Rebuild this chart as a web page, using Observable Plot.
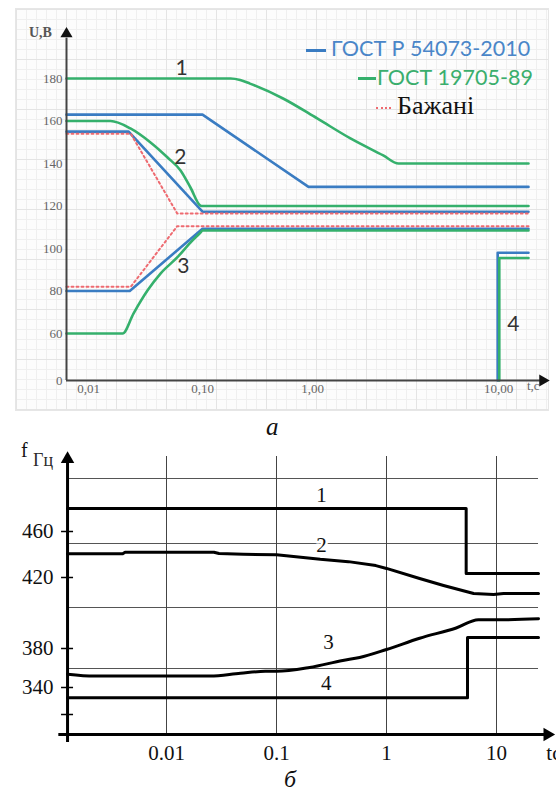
<!DOCTYPE html>
<html><head><meta charset="utf-8">
<script src="https://cdn.jsdelivr.net/npm/d3@7"></script>
<script src="https://cdn.jsdelivr.net/npm/@observablehq/plot@0.6"></script>
<style>
body{margin:0;background:#fff;width:556px;height:793px;position:relative;overflow:hidden;font-family:"Liberation Serif",serif}
.abs{position:absolute;white-space:nowrap;line-height:1}
#panel{left:15px;top:8px;width:532px;height:401px;background-color:#fcfcfc;
background-image:linear-gradient(#e4e4e4 1px,transparent 1px),linear-gradient(90deg,#e4e4e4 1px,transparent 1px),linear-gradient(#efefef 1px,transparent 1px),linear-gradient(90deg,#efefef 1px,transparent 1px);
background-size:50px 50px,50px 50px,10px 10px,10px 10px;border:1px solid #e6e6e6}
#chartA{left:0;top:0}
#chartB{left:0;top:440px}
</style></head><body>
<div id="panel" class="abs"></div>
<div id="chartA" class="abs"></div>
<div id="chartB" class="abs"></div>
<div class="abs" style="left:29px;top:26px;font-size:14px;font-weight:bold;color:#555">U,B</div>
<div class="abs" style="left:527px;top:379px;font-size:13px;color:#666">t,c</div>
<div class="abs" style="left:306px;top:49px;width:20px;height:3px;background:#3a7cc2"></div>
<div class="abs" style="left:331px;top:38px;font-family:Lato,sans-serif;font-size:21.5px;color:#4a86c8">ГОСТ Р 54073-2010</div>
<div class="abs" style="left:358px;top:77px;width:18px;height:3px;background:#35b06c"></div>
<div class="abs" style="left:377px;top:67px;font-family:Lato,sans-serif;font-size:21.5px;color:#3aae6d">ГОСТ 19705-89</div>
<div class="abs" style="left:376px;top:107px;width:15px;height:0;border-top:2px dotted #ee6a70"></div>
<div class="abs" style="left:397px;top:93px;font-size:26px;color:#111">Бажані</div>
<div class="abs" style="left:266px;top:414px;font-size:25px;font-style:italic;color:#111">а</div>
<div class="abs" style="left:21px;top:440px;font-size:20px;color:#111">f</div>
<div class="abs" style="left:33px;top:451px;font-size:18px;color:#2b2b2b">Гц</div>
<div class="abs" style="left:284px;top:767px;font-size:24px;font-style:italic;color:#111">б</div>
<script>
// ---------- Chart а : U, B vs t, c ----------
const aXTicks = [0.01, 0.1, 1, 10];
const aXLabels = ["0,01", "0,10", "1,00", "10,00"];
const aYTicks = [0, 60, 80, 100, 120, 140, 160, 180];
const gostR_1 = [[0.0064,163],[0.1,163],[0.92,129],[14.5,129]];
const gostR_2 = [[0.0064,155],[0.0225,155],[0.1,117.3],[14.5,117.3]];
const gostR_3 = [[0.0064,80],[0.023,80],[0.1,109.3],[14.5,109.3]];
const gostR_4 = [[9.9,0],[9.9,98],[14.5,98]];
const gost_1 = [[0.0064,180],[0.18,180],[0.22,179.3],[0.27,177.6],[0.54,170.6],[1.06,161.2],[1.6,151.8],[2.4,143.8],[2.9,140],[14.5,140]];
const gost_2 = [[0.0064,160],[0.0156,160],[0.0233,156.5],[0.035,149.9],[0.0494,142.8],[0.0642,136.7],[0.0784,128.7],[0.096,120.2],[0.1,120],[14.5,120]];
const gost_3 = [[0.0064,60],[0.0199,60],[0.0248,69.4],[0.0329,80.2],[0.0428,88.2],[0.06,95.8],[0.0784,102.8],[0.096,107.5],[0.1,108.5],[14.5,108.5]];
const gost_4 = [[10.1,0],[10.1,95.5],[14.5,95.5]];
const wish_up = [[0.0064,154],[0.0235,154],[0.06,116.5],[14.5,116.5]];
const wish_low = [[0.0064,82],[0.0235,82],[0.06,110.5],[14.5,110.5]];
const aCurveLabels = [{t:0.0654,u:184.7,s:"1"},{t:0.064,u:142.8,s:"2"},{t:0.068,u:91.5,s:"3"},{t:12.0,u:64.2,s:"4"}];
const aT0 = 0.0064, aTEnd = 16.8, aTArrow = 17.3, aUTop = 199, aUArrow = 201;

const BLUE = "#3a7cc2", GREEN = "#35b06c", RED = "#ee6a70";
const L = (data, stroke, extra = {}) => Plot.line(data, {x: d => d[0], y: d => d[1], stroke, strokeWidth: 2.6, ...extra});

const chartA = Plot.plot({
  width: 556, height: 415,
  x: {type: "log", domain: [0.0064, 0.01, 0.1, 1, 10, 14.5], range: [66, 88, 202, 312, 498, 528], axis: null},
  y: {type: "linear", domain: [0, 60, 180], range: [380, 333, 78], axis: null},
  style: {background: "transparent", overflow: "visible"},
  marks: [
    L(gostR_1, BLUE), L(gostR_2, BLUE), L(gostR_3, BLUE), L(gostR_4, BLUE),
    L(gost_1, GREEN, {curve: "monotone-x"}), L(gost_2, GREEN, {curve: "monotone-x"}), L(gost_3, GREEN, {curve: "monotone-x"}), L(gost_4, GREEN),
    L(wish_up, RED, {strokeWidth: 2, strokeDasharray: "2,3"}),
    L(wish_low, RED, {strokeWidth: 2, strokeDasharray: "2,3"}),
    Plot.ruleY([0], {x1: () => aT0, x2: () => aTEnd, stroke: "#444", strokeWidth: 2}),
    Plot.ruleX([aT0], {y1: () => 0, y2: () => aUTop, stroke: "#444", strokeWidth: 2}),
    Plot.dot([[aTArrow, 0]], {x: d => d[0], y: d => d[1], symbol: "triangle", r: 4.5, rotate: 90, fill: "#111", stroke: null}),
    Plot.dot([[aT0, aUArrow]], {x: d => d[0], y: d => d[1], symbol: "triangle", r: 4.5, fill: "#111", stroke: null}),
    Plot.text(aYTicks, {x: () => aT0, y: d => d, text: d => String(d), dx: -4, textAnchor: "end", fontSize: 13, fontFamily: "Liberation Serif", fill: "#666"}),
    Plot.text(aXTicks, {x: d => d, y: () => 0, text: (d, i) => aXLabels[i], dy: 8, fontSize: 13, fontFamily: "Liberation Serif", fill: "#666"}),
    Plot.text(aCurveLabels, {x: "t", y: "u", text: "s", fontSize: 21, fontFamily: "Lato", fill: "#333"})
  ]
});
document.getElementById("chartA").appendChild(chartA);

// ---------- Chart б : f, Гц vs t, c ----------
const bXTicks = [0.01, 0.1, 1, 10];
const bXLabels = ["0.01", "0.1", "1", "10"];
const bYTicks = [300, 340, 380, 420, 460];
const bYLabels = ["", "340", "380", "420", "460"];
const bGridY = [360, 400, 450, 500];
const f_1 = [[0.00126,477.4],[5.3,477.4],[5.3,423.5],[24.1,423.5]];
const f_2 = [[0.00126,441],[0.004,441],[0.0042,442.3],[0.027,442.3],[0.03,441.2],[0.05,440.5],[0.1,440],[0.25,436],[0.45,434],[0.8,430.5],[1,428],[2,419.3],[3.3,414.7],[6.2,409.3],[9.4,408.7],[11.6,409.3],[24.1,409.3]];
const f_3 = [[0.00126,354],[0.0022,352],[0.025,352],[0.047,355],[0.079,357],[0.1,357],[0.2,361],[0.4,368],[0.57,371],[1,379],[2,385],[4.3,390],[6.85,394],[10,394],[24.1,394.5]];
const f_4 = [[0.00126,325],[5.45,325],[5.45,385.4],[24.1,385.4]];
const bCurveLabels = [{t:0.257,f:487.2,s:"1"},{t:0.257,f:448.2,s:"2"},{t:0.297,f:382.9,s:"3"},{t:0.284,f:344.2,s:"4"}];
const bT0 = 0.00126, bTLeft = 0.00105, bTEnd = 30, bTArrow = 29, bTLineEnd = 24.1, bTUnit = 28.4;
const bFAxis = 270, bFBottom = 258, bFTop = 512, bFArrow = 515, bFGridTop = 517;

const K = (data, extra = {}) => Plot.line(data, {x: d => d[0], y: d => d[1], stroke: "#000", strokeWidth: 3, ...extra});

const chartB = Plot.plot({
  width: 556, height: 353,
  x: {type: "log", domain: [0.001, 100], range: [56, 606], axis: null},
  y: {type: "linear", domain: [270, 300, 340, 360, 380, 400, 420, 450, 460, 500, 517], range: [294, 274, 247, 228, 208, 167, 137, 103, 91, 38, 16], axis: null},
  style: {background: "transparent", overflow: "visible"},
  marks: [
    Plot.ruleY(bGridY, {x1: () => bT0, x2: () => bTLineEnd, stroke: "#555", strokeWidth: 1}),
    Plot.ruleX(bXTicks, {y1: () => bFAxis, y2: () => bFGridTop, stroke: "#444", strokeWidth: 1}),
    K(f_1), K(f_2), K(f_3, {curve: "monotone-x"}), K(f_4),
    Plot.ruleY([bFAxis], {x1: () => bTLeft, x2: () => bTEnd, stroke: "#000", strokeWidth: 3}),
    Plot.ruleX([bT0], {y1: () => bFBottom, y2: () => bFTop, stroke: "#000", strokeWidth: 3}),
    Plot.dot([[bTArrow, bFAxis]], {x: d => d[0], y: d => d[1], symbol: "triangle", r: 5, rotate: 90, fill: "#000", stroke: null}),
    Plot.dot([[bT0, bFArrow]], {x: d => d[0], y: d => d[1], symbol: "triangle", r: 5, fill: "#000", stroke: null}),
    Plot.ruleY(bYTicks, {x1: () => bT0, x2: () => bT0, insetLeft: -6, insetRight: -6, stroke: "#000", strokeWidth: 1.5}),
    Plot.text(bYTicks, {x: () => bT0, y: d => d, text: (d, i) => bYLabels[i], dx: -14, textAnchor: "end", fontSize: 21, fontFamily: "Liberation Serif", fill: "#111"}),
    Plot.text(bXTicks, {x: d => d, y: () => bFAxis, text: (d, i) => bXLabels[i], dy: 19, fontSize: 21, fontFamily: "Liberation Serif", fill: "#111"}),
    Plot.text(["tc"], {x: () => bTUnit, y: () => bFAxis, text: d => d, dy: 19, textAnchor: "start", fontSize: 21, fontFamily: "Liberation Serif", fill: "#111"}),
    Plot.text(bCurveLabels, {x: "t", y: "f", text: "s", fontSize: 21, fontFamily: "Liberation Serif", fill: "#111", stroke: "white", strokeWidth: 5, paintOrder: "stroke"})
  ]
});
document.getElementById("chartB").appendChild(chartB);
</script>
</body></html>
